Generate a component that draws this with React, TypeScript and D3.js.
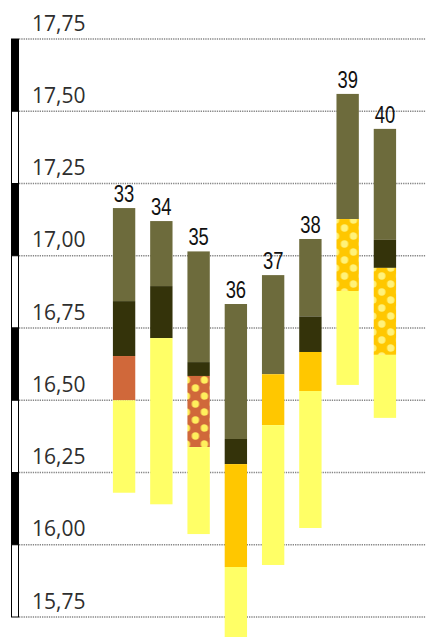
import React from 'react';
import * as d3 from 'd3';

// Week numbers shown above each bar
const weeks = ['33', '34', '35', '36', '37', '38', '39', '40'];

// Segment boundaries per bar, top to bottom (°C)
const bounds = [
  [17.165, 16.843, 16.653, 16.5, 16.18],
  [17.12, 16.895, 16.715, 16.14],
  [17.015, 16.632, 16.584, 16.338, 16.037],
  [16.833, 16.366, 16.279, 15.923, 15.68],
  [16.933, 16.59, 16.414, 15.93],
  [17.058, 16.79, 16.667, 16.532, 16.058],
  [17.56, 17.127, 16.878, 16.553],
  [17.439, 17.055, 16.958, 16.657, 16.439],
];

// Segment kinds per bar, top to bottom
const kinds = [
  ['olive', 'dark', 'orange', 'yellow'],
  ['olive', 'dark', 'yellow'],
  ['olive', 'dark', 'orangeDots', 'yellow'],
  ['olive', 'dark', 'gold', 'yellow'],
  ['olive', 'gold', 'yellow'],
  ['olive', 'dark', 'gold', 'yellow'],
  ['olive', 'goldDots', 'yellow'],
  ['olive', 'dark', 'goldDots', 'yellow'],
];

const yTicks = [17.75, 17.5, 17.25, 17.0, 16.75, 16.5, 16.25, 16.0, 15.75];

const colors: Record<string, string> = {
  olive: '#6d6b3c',
  dark: '#34330a',
  orange: '#d0683a',
  yellow: '#ffff66',
  gold: '#ffc700',
};

const W = 426;
const H = 637;

export default function App() {
  const y = d3.scaleLinear().domain([15.75, 17.75]).range([617, 39]);
  const x = d3.scaleBand<string>().domain(weeks).range([98, 411]).paddingInner(0.4).paddingOuter(0.4);
  const bw = x.bandwidth();
  const fmt = (v: number) => d3.format('.2f')(v).replace('.', ',');

  // axis bar segments between consecutive ticks, alternating black/white
  const axisSegs = d3.pairs(yTicks);

  const patterns: { id: string; x: number; base: string; dot: string }[] = [];
  kinds.forEach((ks, i) => {
    ks.forEach((k) => {
      if (k.endsWith('Dots')) {
        const orange = k === 'orangeDots';
        patterns.push({
          id: `dots-${i}`,
          x: x(weeks[i]) as number,
          base: orange ? colors.orange : colors.gold,
          dot: orange ? '#ffef5c' : '#fff27a',
        });
      }
    });
  });

  const fillFor = (k: string, i: number) => (k.endsWith('Dots') ? `url(#dots-${i})` : colors[k]);

  return (
    <div style={{ position: 'absolute', left: 0, top: 0 }}>
      <svg width={W} height={H} style={{ display: 'block', background: '#fff' }}>
        <defs>
          {patterns.map((p) => (
            <pattern key={p.id} id={p.id} x={p.x} y={0} width={18} height={16} patternUnits="userSpaceOnUse">
              <rect width={18} height={16} fill={p.base} />
              <circle cx={8} cy={4} r={3.7} fill={p.dot} />
              <circle cx={17} cy={12} r={3.7} fill={p.dot} />
              <circle cx={-1} cy={12} r={3.7} fill={p.dot} />
              <circle cx={8} cy={20} r={3.7} fill={p.dot} />
              <circle cx={8} cy={-12} r={3.7} fill={p.dot} />
            </pattern>
          ))}
        </defs>

        {/* gridlines */}
        {yTicks.map((t) => (
          <line key={t} x1={19} x2={W} y1={y(t)} y2={y(t)} stroke="#858585" strokeWidth={1.3} strokeDasharray="1.3,1" />
        ))}

        {/* tick labels */}
        {yTicks.map((t) => (
          <text key={'l' + t} x={32} y={y(t) - 8.5} fontFamily="'Open Sans', 'DejaVu Sans', sans-serif" fontSize={21} fill="#2e2e2e">
            {fmt(t)}
          </text>
        ))}

        {/* alternating axis bar */}
        {axisSegs.map(([a, b], i) => (
          <rect key={'a' + i} x={11.5} y={y(a)} width={7} height={y(b) - y(a)}
            fill={i % 2 === 0 ? '#000' : '#fff'} stroke="#000" strokeWidth={1} />
        ))}

        {/* stacked bars */}
        {bounds.map((bs, i) => {
          const bx = x(weeks[i]) as number;
          return (
            <g key={weeks[i]}>
              {d3.pairs(bs).map(([top, bot], j) => (
                <rect key={j} x={bx} y={y(top)} width={bw} height={y(bot) - y(top)} fill={fillFor(kinds[i][j], i)} />
              ))}
              <text transform={`translate(${bx + bw / 2},${y(bs[0]) - 6}) scale(0.8,1)`} textAnchor="middle"
                fontFamily="'Liberation Sans', Arial, sans-serif" fontSize={23} fill="#111">
                {weeks[i]}
              </text>
            </g>
          );
        })}
      </svg>
    </div>
  );
}
